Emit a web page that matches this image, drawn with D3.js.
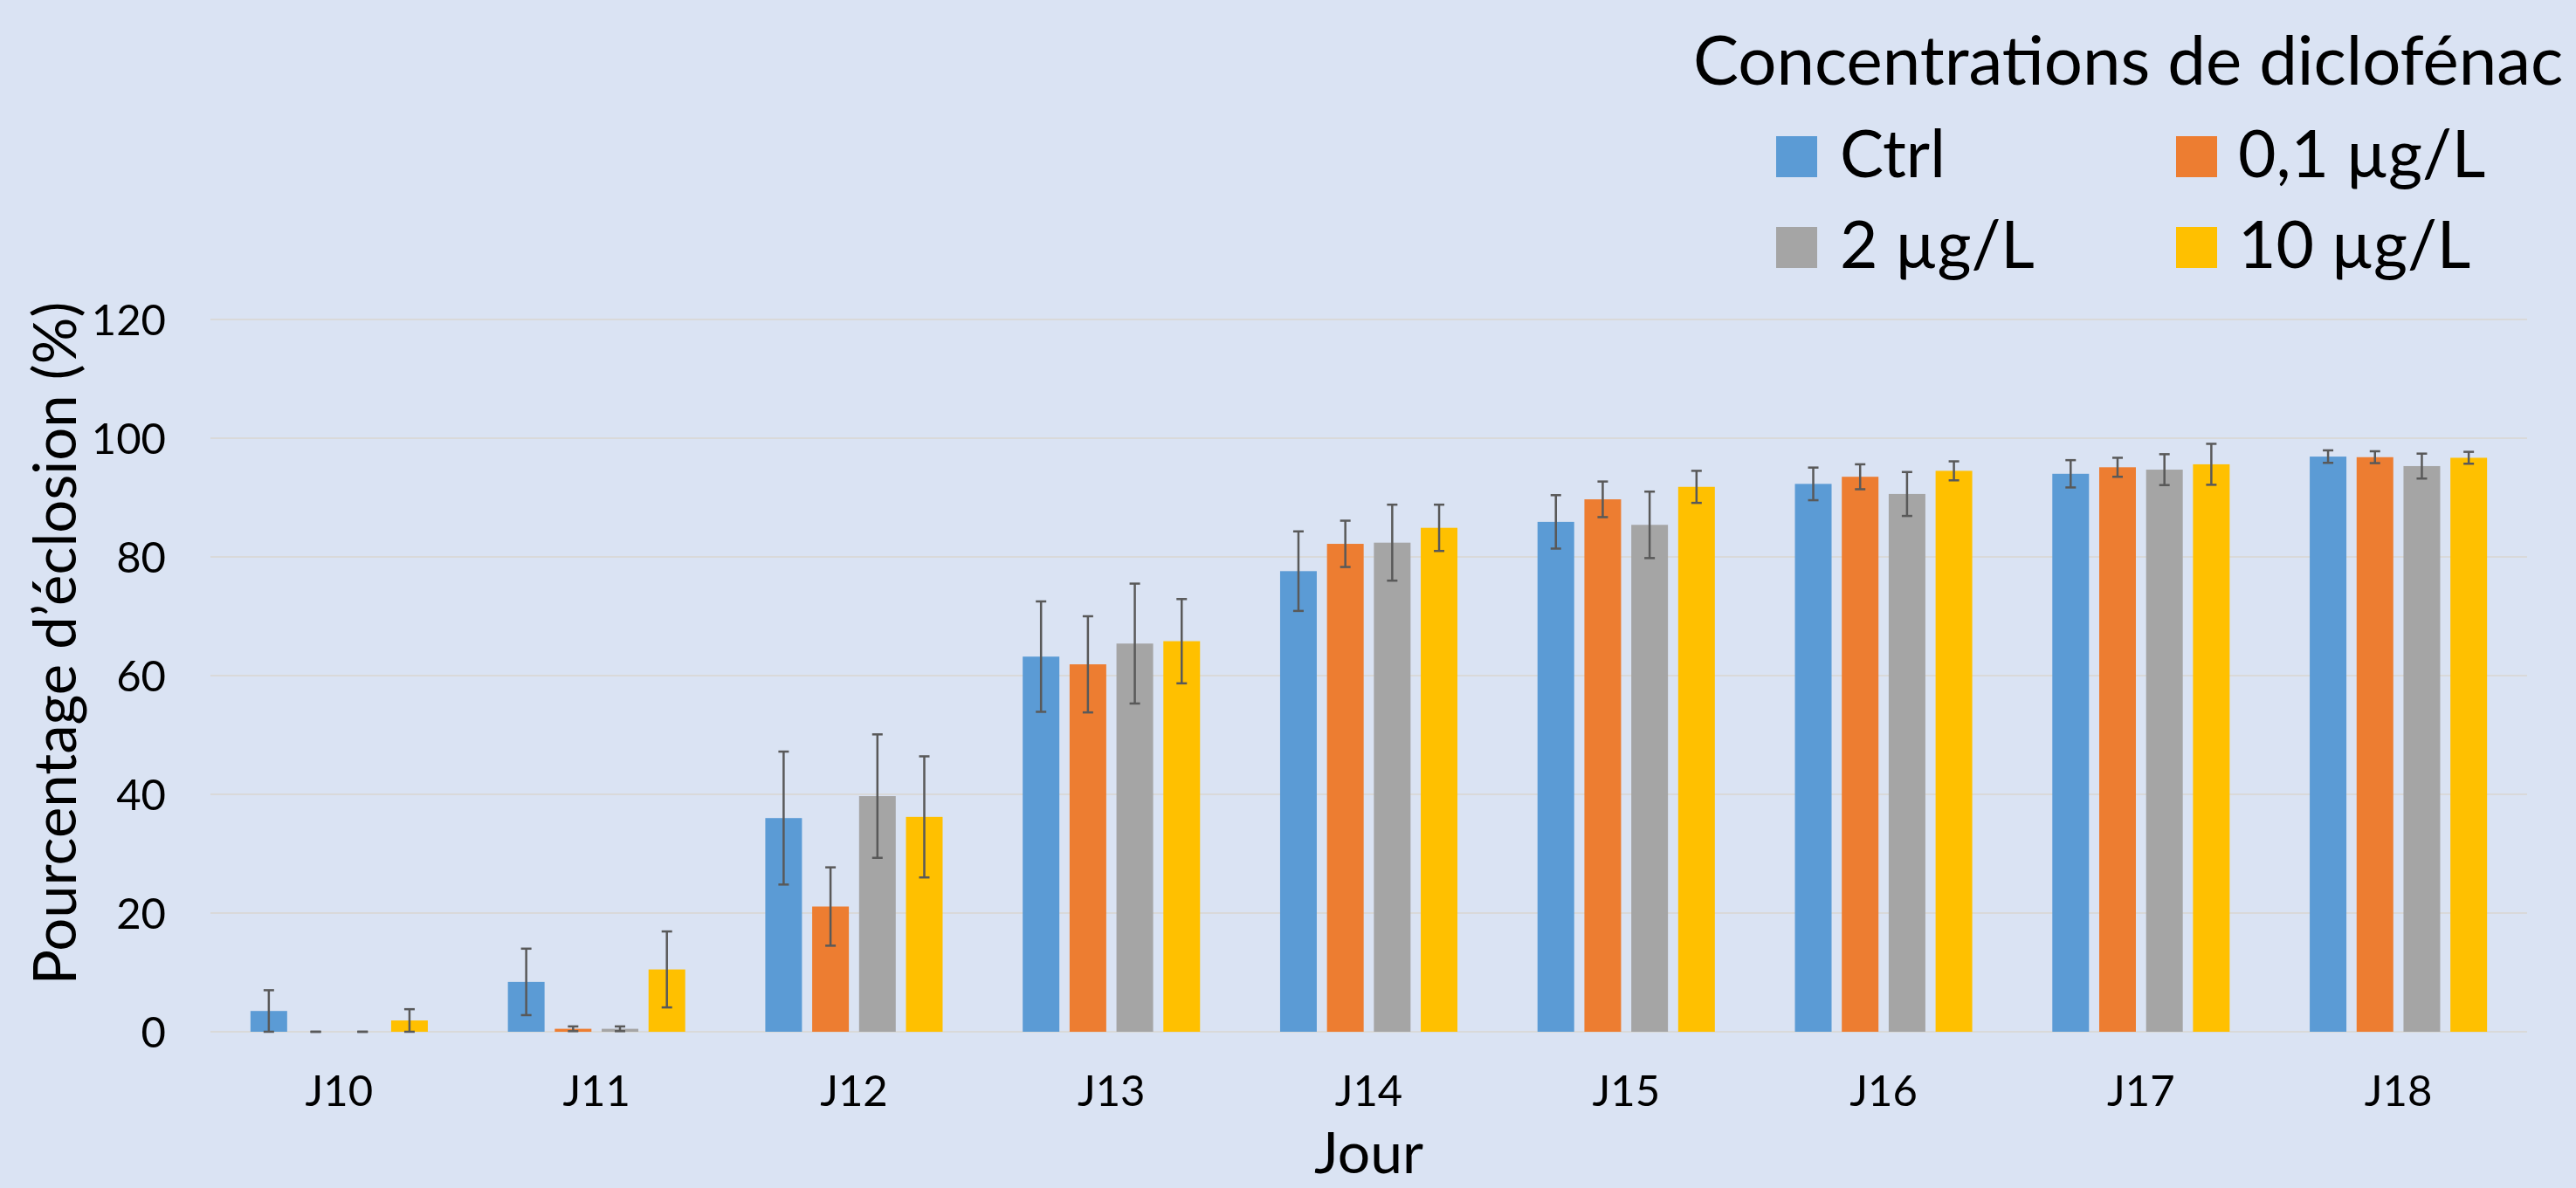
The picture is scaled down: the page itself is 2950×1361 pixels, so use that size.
<!DOCTYPE html>
<html>
<head>
<meta charset="utf-8">
<script src="https://cdn.jsdelivr.net/npm/d3@7"></script>
<style>
  body { margin: 0; background: #dae3f3; }
  svg text { font-family: Lato, "Open Sans", sans-serif; fill: #000; }
</style>
</head>
<body>
<svg id="chart" width="2950" height="1361"></svg>
<script>
// days on the x axis
const days = ["J10", "J11", "J12", "J13", "J14", "J15", "J16", "J17", "J18"];
const seriesNames = ["Ctrl", "0,1 µg/L", "2 µg/L", "10 µg/L"];
const seriesColors = ["#5b9bd5", "#ed7d31", "#a5a5a5", "#ffc000"];

// hatching % per day, and the error bar (+/-) for each
const ctrl     = [3.5, 8.4, 36.0, 63.2, 77.6, 85.9, 92.3, 94.0, 96.9];
const ctrlErr  = [3.5, 5.6, 11.2, 9.3, 6.7, 4.5, 2.75, 2.3, 1.05];
const c01      = [0, 0.5, 21.1, 61.9, 82.2, 89.7, 93.5, 95.1, 96.8];
const c01Err   = [0, 0.4, 6.6, 8.1, 3.9, 3.0, 2.1, 1.6, 1.0];
const c2       = [0, 0.5, 39.7, 65.4, 82.4, 85.4, 90.6, 94.7, 95.3];
const c2Err    = [0, 0.4, 10.4, 10.1, 6.4, 5.6, 3.7, 2.6, 2.1];
const c10      = [1.9, 10.5, 36.2, 65.8, 84.9, 91.8, 94.5, 95.6, 96.7];
const c10Err   = [1.9, 6.4, 10.2, 7.1, 3.9, 2.7, 1.6, 3.45, 1.0];

const yTicks = [0, 20, 40, 60, 80, 100, 120];

const values = [ctrl, c01, c2, c10];
const errors = [ctrlErr, c01Err, c2Err, c10Err];

const svg = d3.select("#chart");
const width = +svg.attr("width");
const height = +svg.attr("height");

const margin = { top: 366, right: 56, bottom: 179, left: 241 };

svg.append("rect")
    .attr("width", width)
    .attr("height", height)
    .attr("fill", "#dae3f3");

const x0 = d3.scaleBand()
    .domain(days)
    .range([margin.left, width - margin.right])
    .padding(0);

const x1 = d3.scaleBand()
    .domain(seriesNames)
    .range([0, x0.bandwidth()])
    .paddingInner(0.218)
    .paddingOuter(0.854);

const y = d3.scaleLinear()
    .domain([0, 120])
    .range([height - margin.bottom, margin.top]);

// gridlines
svg.append("g")
    .selectAll("line")
    .data(yTicks)
    .join("line")
        .attr("x1", margin.left)
        .attr("x2", width - margin.right)
        .attr("y1", d => y(d))
        .attr("y2", d => y(d))
        .attr("stroke", "#d9d9d9")
        .attr("stroke-width", 2);

// y axis (labels only)
const yAxis = svg.append("g")
    .attr("transform", "translate(" + (margin.left - 51) + ",0)")
    .call(d3.axisLeft(y).tickValues(yTicks).tickSize(0).tickPadding(0));
yAxis.select(".domain").remove();
yAxis.selectAll("text")
    .attr("font-size", 49)
    .attr("dy", "0.36em")
    .style("font-family", "Lato, sans-serif");

// x axis (labels only)
const xAxis = svg.append("g")
    .attr("transform", "translate(0," + (height - margin.bottom) + ")")
    .call(d3.axisBottom(x0).tickSize(0).tickPadding(0));
xAxis.select(".domain").remove();
xAxis.selectAll("text")
    .attr("font-size", 49)
    .attr("y", 85)
    .attr("dy", 0)
    .style("font-family", "Lato, sans-serif");

// one row per bar
const rows = [];
days.forEach((day, i) => {
    seriesNames.forEach((s, j) => {
        rows.push({ day: day, series: s, value: values[j][i], err: errors[j][i], color: seriesColors[j] });
    });
});

svg.append("g")
    .selectAll("rect")
    .data(rows)
    .join("rect")
        .attr("x", d => x0(d.day) + x1(d.series))
        .attr("y", d => y(d.value))
        .attr("width", x1.bandwidth())
        .attr("height", d => y(0) - y(d.value))
        .attr("fill", d => d.color);

// error bars
const capW = 6;
const eb = svg.append("g")
    .attr("stroke", "#595959")
    .attr("stroke-width", 2.5)
    .selectAll("g")
    .data(rows)
    .join("g")
        .attr("transform", d => "translate(" + (x0(d.day) + x1(d.series) + x1.bandwidth() / 2) + ",0)");

eb.append("line")
    .attr("y1", d => y(Math.max(0, d.value - d.err)))
    .attr("y2", d => y(d.value + d.err));
eb.append("line")
    .attr("x1", -capW).attr("x2", capW)
    .attr("y1", d => y(d.value + d.err))
    .attr("y2", d => y(d.value + d.err));
eb.append("line")
    .attr("x1", -capW).attr("x2", capW)
    .attr("y1", d => y(Math.max(0, d.value - d.err)))
    .attr("y2", d => y(Math.max(0, d.value - d.err)));

// axis titles
svg.append("text")
    .attr("x", (margin.left + width - margin.right) / 2)
    .attr("y", 1344)
    .attr("text-anchor", "middle")
    .attr("font-size", 66)
    .text("Jour");

svg.append("text")
    .attr("transform", "translate(87,737) rotate(-90)")
    .attr("text-anchor", "middle")
    .attr("font-size", 67)
    .text("Pourcentage d’éclosion (%)");

// legend
const legend = svg.append("g");
legend.append("text")
    .attr("x", 1939)
    .attr("y", 97)
    .attr("font-size", 78)
    .text("Concentrations de diclofénac");

const item = legend.selectAll("g.item")
    .data(seriesNames)
    .join("g")
        .attr("class", "item")
        .attr("transform", (d, i) => "translate(" + (i % 2 === 0 ? 2034 : 2492) + "," + (i < 2 ? 156 : 260) + ")");

item.append("rect")
    .attr("width", 47)
    .attr("height", 47)
    .attr("fill", (d, i) => seriesColors[i]);

item.append("text")
    .attr("x", (d, i) => i % 2 === 0 ? 73 : 71)
    .attr("y", 47)
    .attr("font-size", 75)
    .text(d => d);
</script>
</body>
</html>
